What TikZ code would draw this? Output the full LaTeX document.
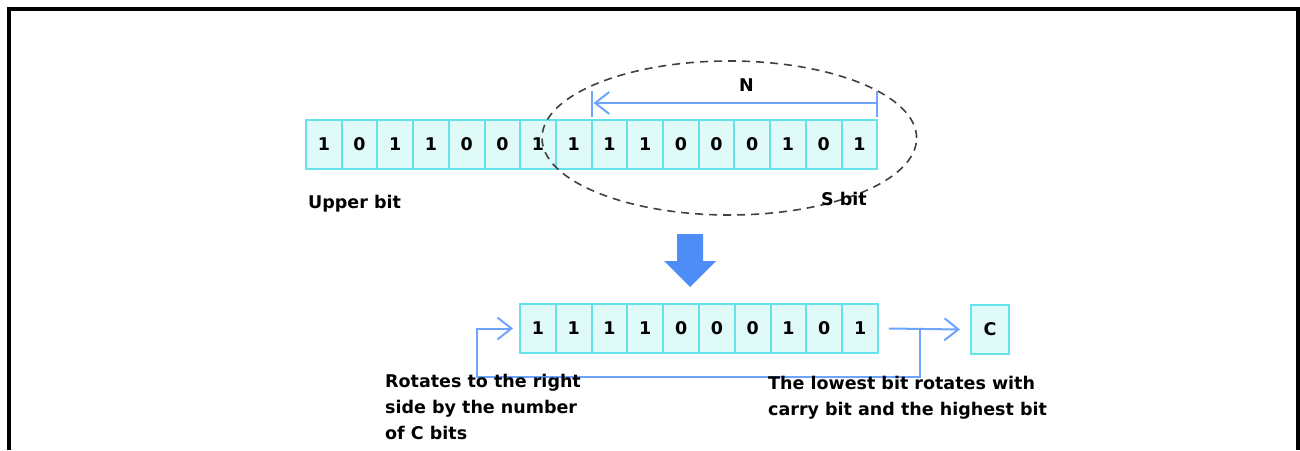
\documentclass[tikz,border=0pt]{standalone}
\usepackage{fontspec}
\setmainfont{DejaVu Sans}
\usepackage{xcolor}
\usetikzlibrary{arrows.meta}

\definecolor{cellline}{RGB}{102,226,234}
\definecolor{cellfill}{RGB}{224,250,250}
\definecolor{flowblue}{RGB}{110,164,255}
\definecolor{bigblue}{RGB}{77,141,245}
\newcommand{\diagfont}{\fontsize{17.5}{26}\selectfont\bfseries}

\begin{document}
\begin{tikzpicture}[x=1pt, y=-1pt,
    bitcell/.style={rectangle, draw=cellline, fill=cellfill, line width=2pt, minimum width=35.7pt, minimum height=49pt, inner sep=0pt, font=\diagfont},
    caption/.style={inner sep=0pt, align=left, font=\diagfont},
    flow/.style={draw=flowblue, line width=2pt},
    barb/.style={-{Straight Barb[length=14pt, width=22pt]}}
]
    \useasboundingbox (0,0) rectangle (1300,450);

    % Outer frame
    \draw[line width=4pt] (8.7,450) -- (8.7,9) -- (1297.7,9) -- (1297.7,450);

    % Register before rotation
    \foreach \b [count=\i] in {1,0,1,1,0,0,1,1,1,1,0,0,0,1,0,1}
        \node[bitcell] (t\i) at ({306+35.7*(\i-0.5)},144.5) {\b};

    % Selected N bits
    \draw[draw=black!75, line width=1.6pt, dash pattern=on 8pt off 6pt] (729.3,138) ellipse (187.3pt and 77pt);
    \coordinate (nL) at (591.6,103);
    \coordinate (nR) at (877.2,103);
    \draw[flow] ([yshift=12pt]nL) -- ([yshift=-14pt]nL);
    \draw[flow] ([yshift=12pt]nR) -- ([yshift=-14pt]nR);
    \draw[flow, barb] (nR) -- ([xshift=2pt]nL);
    \node[caption] (nlab) at (746.5,85.5) {N};

    \node[caption, anchor=base west] (upper) at (308,208) {Upper bit};
    \node[caption, anchor=base west] (sbit) at (821,205) {S bit};

    % Big arrow
    \fill[bigblue] (677,234) -- (703,234) -- (703,261) -- (716,261) -- (690,287) -- (664,261) -- (677,261) -- cycle;

    % Register after rotation
    \foreach \b [count=\i] in {1,1,1,1,0,0,0,1,0,1}
        \node[bitcell] (b\i) at ({520+35.8*(\i-0.5)},328.5) {\b};
    \node[bitcell, minimum width=38pt] (cbit) at (990,329.5) {C};

    % Carry and loop back
    \coordinate (split) at (920,329);
    \coordinate (loopR) at (920,377);
    \coordinate (loopL) at (477,377);
    \draw[flow, barb] ([xshift=10pt]b10.east) -- ([xshift=-10pt]cbit.west);
    \draw[flow, barb] (split) -- (loopR) -- (loopL) |- ([xshift=-6pt]b1.west);

    % Notes
    \node[caption, anchor=north west] (rotnote) at (385,374) {Rotates to the right\\side by the number\\of C bits};
    \node[caption, anchor=north west] (lownote) at (768,376) {The lowest bit rotates with\\carry bit and the highest bit};
\end{tikzpicture}
\end{document}
